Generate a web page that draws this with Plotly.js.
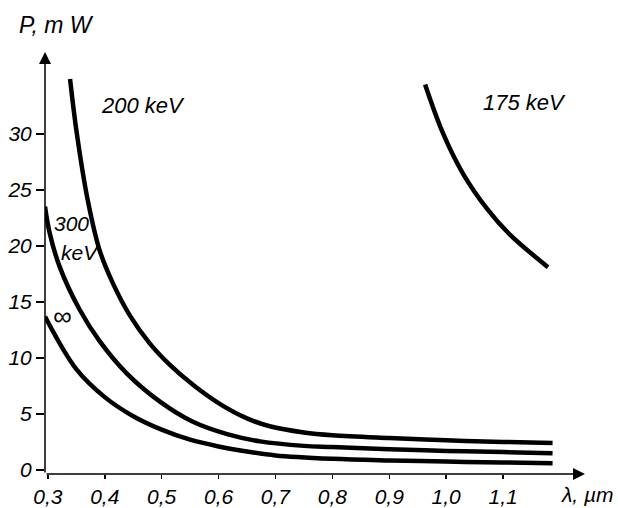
<!DOCTYPE html>
<html>
<head>
<meta charset="utf-8">
<script src="https://cdn.plot.ly/plotly-3.0.1.min.js"></script>
<style>
html,body{margin:0;padding:0;background:#fff;}
#chart{width:618px;height:508px;}
</style>
</head>
<body>
<div id="chart"></div>
<script>
// Wavelength (µm) and power (mW)
const wl200 = [0.339, 0.351, 0.37, 0.391, 0.414, 0.444, 0.479, 0.514, 0.555, 0.602, 0.65, 0.69, 0.75, 0.8, 0.9, 1.0, 1.1, 1.187];
const p200  = [34.9, 30.0, 24.1, 19.6, 16.7, 13.8, 11.3, 9.4, 7.6, 5.9, 4.6, 3.9, 3.35, 3.1, 2.85, 2.65, 2.5, 2.4];

const wl300 = [0.295, 0.303, 0.321, 0.356, 0.391, 0.439, 0.497, 0.555, 0.615, 0.673, 0.75, 0.8, 0.9, 1.0, 1.1, 1.187];
const p300  = [23.5, 21.2, 18.1, 14.3, 11.5, 8.6, 6.1, 4.3, 3.2, 2.55, 2.15, 2.05, 1.85, 1.7, 1.6, 1.5];

const wlInf = [0.295, 0.35, 0.4, 0.45, 0.5, 0.55, 0.6, 0.65, 0.7, 0.8, 0.9, 1.0, 1.1, 1.187];
const pInf  = [13.7, 9.0, 6.5, 4.8, 3.6, 2.7, 2.1, 1.65, 1.3, 1.0, 0.85, 0.75, 0.67, 0.6];

const wl175 = [0.963, 0.994, 1.029, 1.072, 1.112, 1.179];
const p175  = [34.4, 30.1, 26.5, 23.3, 21.0, 18.1];

const xTickVals = [0.3, 0.4, 0.5, 0.6, 0.7, 0.8, 0.9, 1.0, 1.1];
const xTickText = ["0,3", "0,4", "0,5", "0,6", "0,7", "0,8", "0,9", "1,0", "1,1"];
const yTickVals = [0, 5, 10, 15, 20, 25, 30];
const yTickText = ["0", "5", "10", "15", "20", "25", "30"];

const curveLabels = [
  {text: "200 keV", x: 0.467, y: 32.5, size: 22},
  {text: "175 keV", x: 1.138, y: 32.8, size: 22},
  {text: "300", x: 0.342, y: 22.0, size: 21},
  {text: "keV", x: 0.356, y: 19.4, size: 21},
  {text: "∞", x: 0.325, y: 13.7, size: 26}
];

const FONT = "Liberation Sans, Arial, sans-serif";
const X0 = 0.295, X1 = 1.244, Y0 = -0.36, Y1 = 37.3;

const lineStyle = {color: "#000", width: 4.5, shape: "spline", smoothing: 1};
const traces = [
  {x: wl200, y: p200, mode: "lines", line: lineStyle, hoverinfo: "skip"},
  {x: wl300, y: p300, mode: "lines", line: lineStyle, hoverinfo: "skip"},
  {x: wlInf, y: pInf, mode: "lines", line: lineStyle, hoverinfo: "skip"},
  {x: wl175, y: p175, mode: "lines", line: lineStyle, hoverinfo: "skip"}
];

const annotations = curveLabels.map(l => ({
  x: l.x, y: l.y, xref: "x", yref: "y", text: "<i>" + l.text + "</i>",
  showarrow: false, font: {family: FONT, size: l.size, color: "#000"}
}));

// axis lines with arrow heads
annotations.push({
  x: X1, y: Y0, xref: "x", yref: "y", ax: X0, ay: Y0, axref: "x", ayref: "y",
  showarrow: true, arrowhead: 2, arrowsize: 1.6, arrowwidth: 1.5, arrowcolor: "#000", text: ""
});
annotations.push({
  x: X0, y: Y1, xref: "x", yref: "y", ax: X0, ay: Y0, axref: "x", ayref: "y",
  showarrow: true, arrowhead: 2, arrowsize: 1.6, arrowwidth: 1.5, arrowcolor: "#000", text: ""
});
// axis titles
annotations.push({x: 0, y: 1, xref: "paper", yref: "paper", xanchor: "center", yanchor: "middle",
  text: "<i>P, m W</i>", showarrow: false, xshift: 11, yshift: 27,
  font: {family: FONT, size: 23, color: "#000"}});
annotations.push({x: 1, y: 0, xref: "paper", yref: "paper", xanchor: "right", yanchor: "middle",
  text: "<i>λ, µm</i>", showarrow: false, xshift: 31, yshift: -20,
  font: {family: FONT, size: 21, color: "#000"}});

const layout = {
  width: 618, height: 508,
  margin: {l: 45, r: 33, t: 52, b: 34},
  paper_bgcolor: "#fff", plot_bgcolor: "#fff",
  showlegend: false,
  font: {family: FONT, size: 21, color: "#000"},
  xaxis: {
    range: [X0, X1], showgrid: false, zeroline: false, showline: false,
    tickvals: xTickVals, ticktext: xTickText.map(t => "<i>" + t + "</i>"),
    ticks: "outside", ticklen: 4, tickwidth: 1.5, tickcolor: "#000",
    tickfont: {family: FONT, size: 21, color: "#000"}
  },
  yaxis: {
    range: [Y0, Y1], showgrid: false, zeroline: false, showline: false,
    tickvals: yTickVals, ticktext: yTickText.map(t => "<i>" + t + "</i>"),
    ticks: "outside", ticklen: 8, tickwidth: 1.5, tickcolor: "#000",
    tickfont: {family: FONT, size: 21, color: "#000"}
  },
  annotations: annotations
};

Plotly.newPlot("chart", traces, layout, {staticPlot: true, displayModeBar: false});
</script>
</body>
</html>
